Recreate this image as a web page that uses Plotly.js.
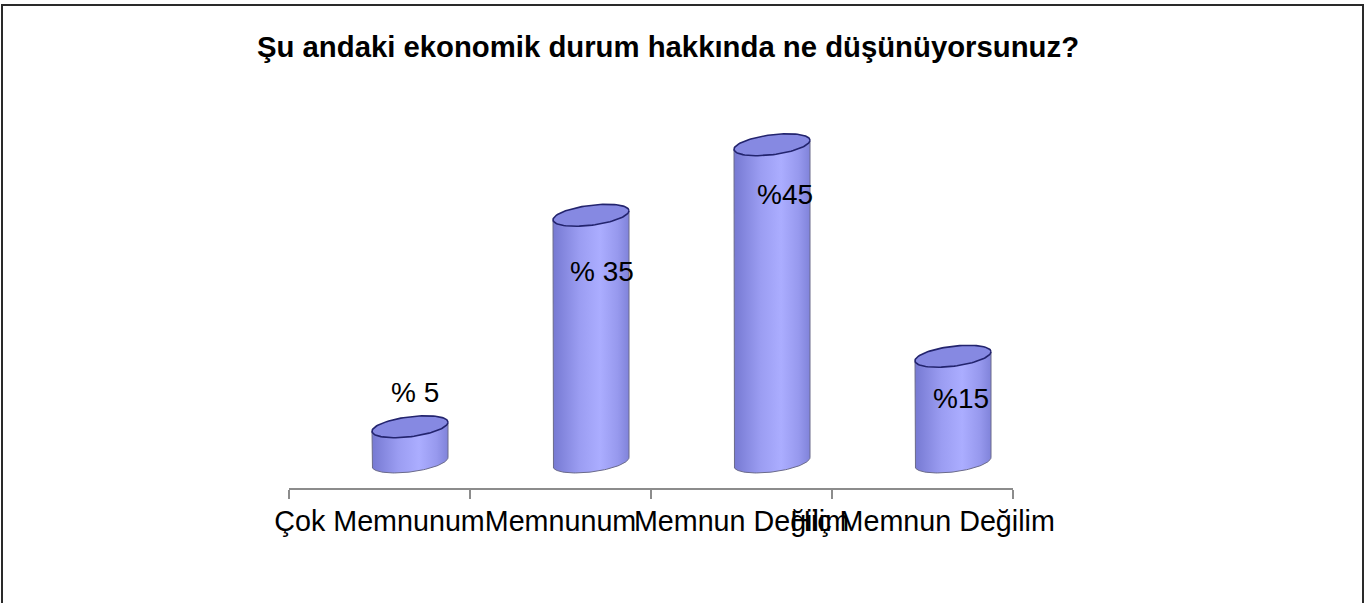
<!DOCTYPE html>
<html><head><meta charset="utf-8">
<script src="https://cdn.plot.ly/plotly-3.0.1.min.js"></script>
<style>html,body{margin:0;padding:0;background:#fff}#chart{width:1365px;height:603px}</style>
</head><body><div id="chart"></div>
<script>
// ---- data ----
const categories = ["Çok Memnunum", "Memnunum", "Memnun Değilim", "Hiç Memnun Değilim"];
const values = [5, 35, 45, 15];
const valueLabels = ["% 5", "% 35", "%45", "%15"];
const chartTitle = "Şu andaki ekonomik durum hakkında ne düşünüyorsunuz?";

// ---- style / geometry (pixels) ----
const labelXShift = [5, 11, 13, 8];
const labelYShift = [34, -56, -50, -42];
const W = 1365, H = 603;
const M = {l: 289, r: 352, t: 100, b: 115};
const yRange = [-3.69, 51.35];
const plotW = W - M.l - M.r, plotH = H - M.t - M.b;
const pxPerY = plotH / (yRange[1] - yRange[0]);
const pxPerX = plotW / categories.length;
const cyl = {dx: 30.5 / pxPerX, a: 38 / pxPerX, b: 10 / pxPerY, s: 4.5 / pxPerY};

function ellipsePts(cx, cy, t0, t1, n) {
  const xs = [], ys = [];
  for (let k = 0; k <= n; k++) {
    const t = t0 + (t1 - t0) * k / n;
    xs.push(cx + cyl.a * Math.cos(t));
    ys.push(cy + cyl.b * Math.sin(t) + cyl.s * Math.cos(t));
  }
  return [xs, ys];
}

const traces = [{
  type: 'scatter', x: categories, y: values, xaxis: 'x', yaxis: 'y',
  mode: 'markers', marker: {opacity: 0}, hoverinfo: 'skip', showlegend: false
}];

const annotations = [];
values.forEach((v, i) => {
  const cx = i + cyl.dx;
  const [bx, by] = ellipsePts(cx, 0, Math.PI, 2 * Math.PI, 60);
  const xs = [cx - cyl.a].concat(bx, [cx + cyl.a, cx - cyl.a]);
  const ys = [v - cyl.s].concat(by, [v + cyl.s, v - cyl.s]);
  traces.push({
    type: 'scatter', x: xs, y: ys, xaxis: 'x2', yaxis: 'y',
    mode: 'lines', fill: 'toself',
    fillgradient: {type: 'horizontal', colorscale: [[0, '#7679d2'], [0.35, '#9b9df2'], [0.62, '#abadff'], [0.85, '#9799ee'], [1, '#8083da']]},
    line: {color: '#6a6a8a', width: 1}, hoverinfo: 'skip', showlegend: false
  });
  const [tx, ty] = ellipsePts(cx, v, 0, 2 * Math.PI, 90);
  traces.push({
    type: 'scatter', x: tx, y: ty, xaxis: 'x2', yaxis: 'y',
    mode: 'lines', fill: 'toself', fillcolor: '#8689e2',
    line: {color: '#23246e', width: 1.6}, hoverinfo: 'skip', showlegend: false
  });
  annotations.push({
    xref: 'x2', yref: 'y', x: cx, y: v, text: valueLabels[i], showarrow: false,
    xshift: labelXShift[i], yshift: labelYShift[i], xanchor: 'center', yanchor: 'middle',
    font: {family: 'Liberation Sans, Arial, sans-serif', size: 28, color: '#000'}
  });
});

const layout = {
  width: W, height: H,
  margin: M,
  paper_bgcolor: '#fff', plot_bgcolor: '#fff',
  showlegend: false,
  title: {
    text: chartTitle, xref: 'container', yref: 'container',
    x: 668 / W, xanchor: 'center', y: 1 - 47 / H, yanchor: 'middle',
    font: {family: 'Liberation Sans, Arial, sans-serif', size: 29.3, color: '#000', weight: 'bold'}
  },
  xaxis: {
    type: 'category', categoryorder: 'array', categoryarray: categories,
    range: [-0.5, categories.length - 0.5], tickson: 'boundaries',
    ticks: 'outside', ticklen: 9, tickwidth: 2, tickcolor: '#8c8c8c',
    tickangle: 0, automargin: false, ticklabelstandoff: 7,
    showline: true, linecolor: '#8c8c8c', linewidth: 2,
    showgrid: false, zeroline: false, fixedrange: true,
    tickfont: {family: 'Liberation Sans, Arial, sans-serif', size: 28.7, color: '#000'}
  },
  xaxis2: {overlaying: 'x', anchor: 'y', range: [-0.5, categories.length - 0.5], visible: false, fixedrange: true},
  yaxis: {range: yRange, visible: false, fixedrange: true},
  annotations: annotations,
  shapes: [{
    type: 'rect', xref: 'paper', yref: 'paper',
    x0: (2 - M.l) / plotW, x1: (1363 - M.l) / plotW,
    y0: (H - M.b - (H + 20)) / plotH, y1: (H - M.b - 5) / plotH,
    line: {color: '#2a2a2a', width: 2}, fillcolor: 'rgba(0,0,0,0)'
  }]
};

Plotly.newPlot('chart', traces, layout, {displayModeBar: false, staticPlot: true});
</script>
</body></html>
